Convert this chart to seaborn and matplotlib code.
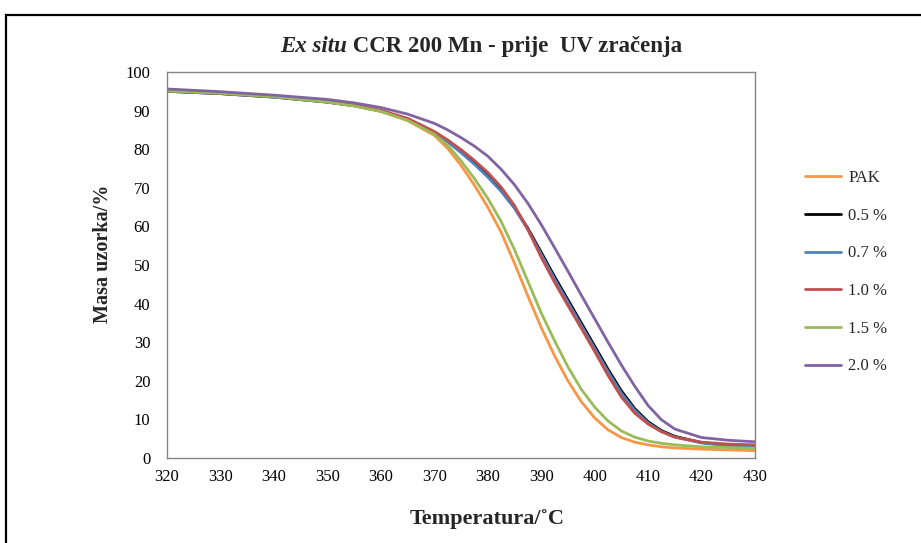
import pandas as pd
import matplotlib
matplotlib.use('Agg')
import matplotlib.pyplot as plt
import seaborn as sns
from matplotlib.patches import Rectangle

# Data (temperature in C, sample mass in %)
temperature = [320, 330, 340, 350, 355, 360, 365, 370, 372.5, 375, 377.5, 380, 382.5,
               385, 387.5, 390, 392.5, 395, 397.5, 400, 402.5, 405, 407.5, 410, 412.5,
               415, 420, 425, 430]
pak = [95.1, 94.5, 93.6, 92.2, 91.2, 89.8, 87.4, 83.6, 80.2, 75.8, 70.7, 65.0, 58.5,
       50.5, 42.0, 33.8, 26.5, 20.0, 14.6, 10.4, 7.3, 5.3, 4.1, 3.4, 2.9,
       2.6, 2.3, 2.1, 1.9]
mn_05 = [95.0, 94.4, 93.5, 92.2, 91.3, 89.9, 87.8, 84.4, 82.1, 79.4, 76.4, 73.0, 69.3,
         64.9, 59.5, 53.3, 47.0, 41.0, 35.0, 29.0, 23.0, 17.4, 12.8, 9.4, 7.1,
         5.6, 4.0, 3.3, 2.9]
mn_07 = [95.0, 94.4, 93.5, 92.2, 91.3, 89.9, 87.8, 84.3, 81.9, 79.1, 76.1, 72.8, 69.1,
         64.7, 59.2, 52.8, 46.4, 40.4, 34.4, 28.4, 22.4, 16.8, 12.4, 9.1, 6.9,
         5.4, 3.9, 3.2, 2.8]
mn_10 = [95.1, 94.5, 93.6, 92.3, 91.4, 90.1, 88.0, 84.6, 82.4, 79.9, 77.1, 74.0, 70.2,
         65.4, 59.2, 52.0, 45.5, 39.5, 33.6, 27.6, 21.4, 15.8, 11.6, 8.8, 6.8,
         5.4, 4.1, 3.6, 3.4]
mn_15 = [95.1, 94.5, 93.6, 92.2, 91.2, 89.8, 87.5, 83.9, 81.0, 77.0, 72.4, 67.3, 61.3,
         54.0, 45.8, 37.6, 30.4, 23.6, 17.8, 13.2, 9.6, 7.0, 5.4, 4.4, 3.8,
         3.4, 2.9, 2.7, 2.5]
mn_20 = [95.6, 94.9, 94.0, 92.9, 92.0, 90.8, 89.1, 86.7, 85.0, 83.0, 80.8, 78.2, 74.8,
         70.8, 66.0, 60.5, 54.5, 48.4, 42.2, 36.1, 30.0, 24.1, 18.6, 13.6, 9.9,
         7.5, 5.3, 4.6, 4.2]

labels = ['PAK', '0.5 %', '0.7 %', '1.0 %', '1.5 %', '2.0 %']
colors = ['#F79646', '#000000', '#4F81BD', '#C0504D', '#9BBB59', '#8064A2']

df = pd.DataFrame({'Temperatura': temperature, 'PAK': pak, '0.5 %': mn_05,
                   '0.7 %': mn_07, '1.0 %': mn_10, '1.5 %': mn_15, '2.0 %': mn_20})
long_df = df.melt(id_vars='Temperatura', var_name='uzorak', value_name='masa')

sns.set_theme(style='white')
plt.rcParams['font.family'] = ['Liberation Serif', 'DejaVu Serif']

fig = plt.figure(figsize=(9.21, 5.43), dpi=100)
ax = fig.add_axes([167 / 921, 1 - 458 / 543, 588 / 921, 386 / 543])

sns.lineplot(data=long_df, x='Temperatura', y='masa', hue='uzorak', hue_order=labels,
             palette=colors, linewidth=2, sort=False, estimator=None, ax=ax)

ax.set_xlim(320, 430)
ax.set_ylim(0, 100)
ax.set_xticks(range(320, 431, 10))
ax.set_yticks(range(0, 101, 10))
ax.set_xlabel('')
ax.set_ylabel('')
for side in ax.spines.values():
    side.set_color('#868686')
    side.set_linewidth(1)
ax.tick_params(axis='both', direction='out', length=5, width=1, color='#868686',
               labelsize=12, labelcolor='black')
ax.tick_params(axis='x', pad=3)
ax.tick_params(axis='y', pad=7)

handles, _ = ax.get_legend_handles_labels()
ax.legend(handles, labels, loc='upper left', bbox_to_anchor=(805 / 921, 1 - 170 / 543),
          bbox_transform=fig.transFigure, frameon=False, fontsize=12,
          handlelength=2.15, handletextpad=0.45, labelspacing=1.3,
          borderpad=0, borderaxespad=0)

# title with italic "Ex situ"
renderer = fig.canvas.get_renderer()
ty = 1 - 52 / 543
t1 = fig.text(0, ty, 'Ex situ', style='italic', weight='bold', fontsize=16.5, va='baseline')
t2 = fig.text(0, ty, ' CCR 200 Mn - prije  UV zračenja', weight='bold', fontsize=16.5,
              va='baseline')
w1 = t1.get_window_extent(renderer).width
w2 = t2.get_window_extent(renderer).width
x0 = 481 - (w1 + w2) / 2
t1.set_x(x0 / 921)
t2.set_x((x0 + w1) / 921)

fig.text(487 / 921, 1 - 519 / 543, 'Temperatura/˚C', weight='bold', fontsize=16,
         ha='center', va='center')
fig.text(103 / 921, 1 - 254 / 543, 'Masa uzorka/%', weight='bold', fontsize=14.5,
         rotation=90, ha='center', va='center')

# outer chart frame
fig.patches.append(Rectangle((6 / 921, -0.1), 1.2, 1.1 - 15 / 543, transform=fig.transFigure,
                             fill=False, edgecolor='black', linewidth=1.6))

fig.savefig('out.png', dpi=100)
